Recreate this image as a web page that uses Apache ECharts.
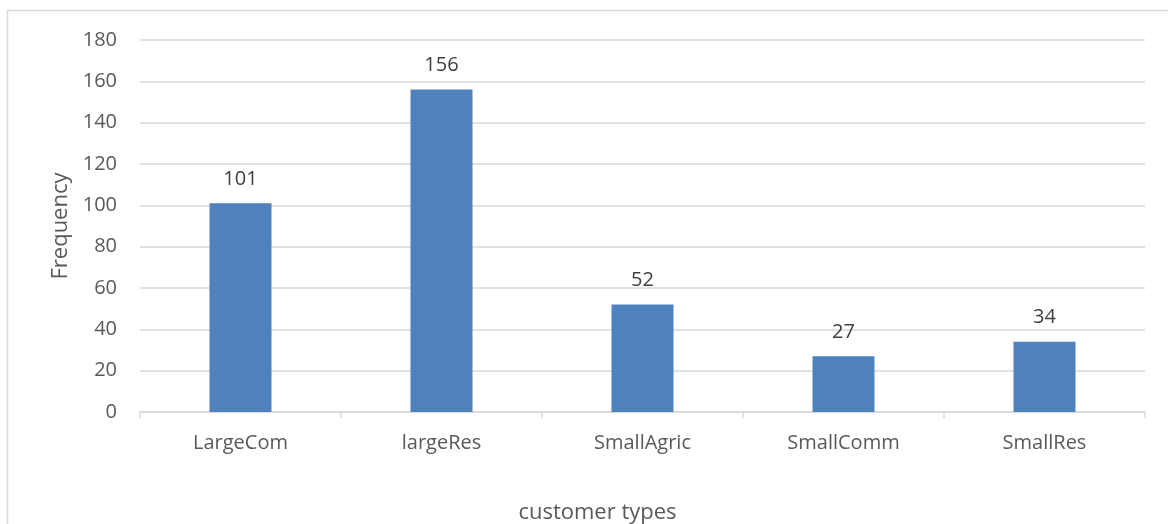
<!DOCTYPE html>
<html>
<head>
<meta charset="utf-8">
<script src="https://cdn.jsdelivr.net/npm/echarts@6/dist/echarts.min.js"></script>
<style>
  html, body { margin: 0; padding: 0; background: #fff; }
  #chart { width: 1168px; height: 524px; }
</style>
</head>
<body>
<div id="chart"></div>
<script>
// Customer type counts
const categories = ['LargeCom', 'largeRes', 'SmallAgric', 'SmallComm', 'SmallRes'];
const frequency = [101, 156, 52, 27, 34];
const yTicks = { min: 0, max: 180, step: 20 };

const font = '"Open Sans", "Liberation Sans", sans-serif';
const chart = echarts.init(document.getElementById('chart'));

chart.setOption({
  animation: false,
  textStyle: { fontFamily: font },
  graphic: [{
    type: 'rect',
    shape: { x: 7.5, y: 10.5, width: 1300, height: 700 },
    style: { fill: 'none', stroke: '#d9d9d9', lineWidth: 1.5 },
    silent: true
  }],
  grid: { left: 140, right: 23, top: 40, bottom: 112, containLabel: false, outerBoundsMode: 'none' },
  xAxis: {
    type: 'category',
    data: categories,
    name: 'customer types',
    nameLocation: 'middle',
    nameGap: 90,
    nameTextStyle: { fontSize: 22, color: '#595959', fontFamily: font, padding: [0, 90, 0, 0] },
    axisLine: { lineStyle: { color: '#d9d9d9', width: 1.5 } },
    axisTick: { show: true, length: 6, lineStyle: { color: '#d9d9d9', width: 1.5 } },
    axisLabel: { fontSize: 20, color: '#595959', margin: 21, fontFamily: font }
  },
  yAxis: {
    type: 'value',
    min: yTicks.min,
    max: yTicks.max,
    interval: yTicks.step,
    name: 'Frequency',
    nameLocation: 'middle',
    nameGap: 68,
    nameTextStyle: { fontSize: 22, color: '#595959', fontFamily: font },
    axisLine: { show: false },
    axisTick: { show: false },
    axisLabel: { fontSize: 20, color: '#595959', margin: 23, fontFamily: font },
    splitLine: { lineStyle: { color: '#d9d9d9', width: 1.5 } }
  },
  series: [{
    type: 'bar',
    data: frequency,
    barWidth: 62,
    itemStyle: { color: '#4f81bd' },
    label: {
      show: true,
      position: 'top',
      distance: 14,
      fontSize: 20,
      color: '#404040',
      fontFamily: font
    }
  }]
});
</script>
</body>
</html>
